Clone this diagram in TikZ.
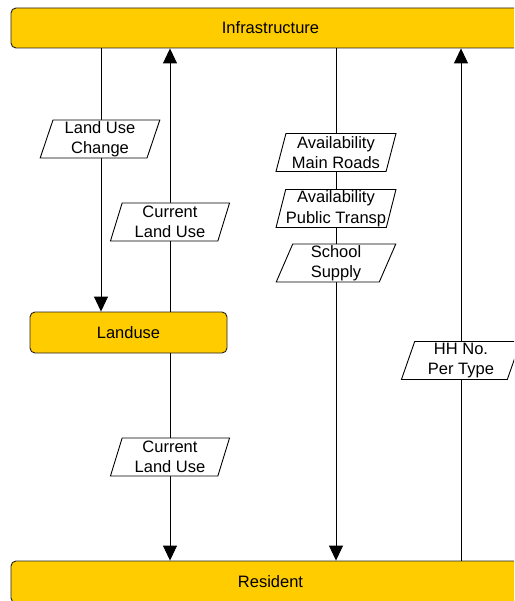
\documentclass[tikz,border=0pt]{standalone}
\usepackage{fontspec}
\setmainfont{Liberation Sans}
\usetikzlibrary{arrows.meta,shapes.geometric}
\definecolor{boxyellow}{HTML}{FFCC00}
\definecolor{edgegray}{HTML}{222222}
\begin{document}
\begin{tikzpicture}[x=1pt,y=-1pt,
  bigbox/.style={draw=edgegray, line width=0.9pt, fill=boxyellow, rounded corners=5pt,
    minimum height=40pt, inner sep=0pt, font=\fontsize{16.5}{19}\selectfont},
  lbl/.style={trapezium, trapezium left angle=75, trapezium right angle=105,
    trapezium stretches=true, draw=black, line width=0.9pt, fill=white,
    minimum width=120pt, minimum height=38pt, inner sep=0pt, align=center,
    font=\fontsize{16.5}{20.5}\selectfont},
  conn/.style={line width=0.9pt, draw=black},
  tip/.style={-{Triangle[width=14pt,length=15pt]}}]
\clip (0,0) rectangle (514,601);
\fill[white] (0,0) rectangle (514,601);
% boxes
\node[bigbox, minimum width=519pt] (infra) at (270.5,28) {Infrastructure};
\node[bigbox, minimum width=519pt, minimum height=42pt] (res) at (270.5,582) {Resident};
\node[bigbox, minimum width=197pt, minimum height=41pt] (land) at (128.5,332.5) {Landuse};
% connectors
\draw[conn,tip] (infra.south -| 101,0) -- (land.north -| 101,0);
\draw[conn,tip] (land.north -| 170,0) -- (infra.south -| 170,0);
\draw[conn,tip] (land.south -| 170,0) -- (res.north -| 170,0);
\draw[conn,tip] (infra.south -| 336,0) -- (res.north -| 336,0);
\draw[conn,tip] (res.north -| 461,0) -- (infra.south -| 461,0);
% labels
\node[lbl] (luc) at (100,139) {Land Use\\Change};
\node[lbl] (cluA) at (170,222) {Current\\Land Use};
\node[lbl] (cluB) at (170,457) {Current\\Land Use};
\node[lbl] (amr) at (336,152.5) {Availability\\Main Roads};
\node[lbl] (apt) at (336,208.5) {Availability\\Public Transp};
\node[lbl] (ss) at (336,263) {School\\Supply};
\node[lbl] (hh) at (461,360.5) {HH No.\\Per Type};
\end{tikzpicture}
\end{document}
